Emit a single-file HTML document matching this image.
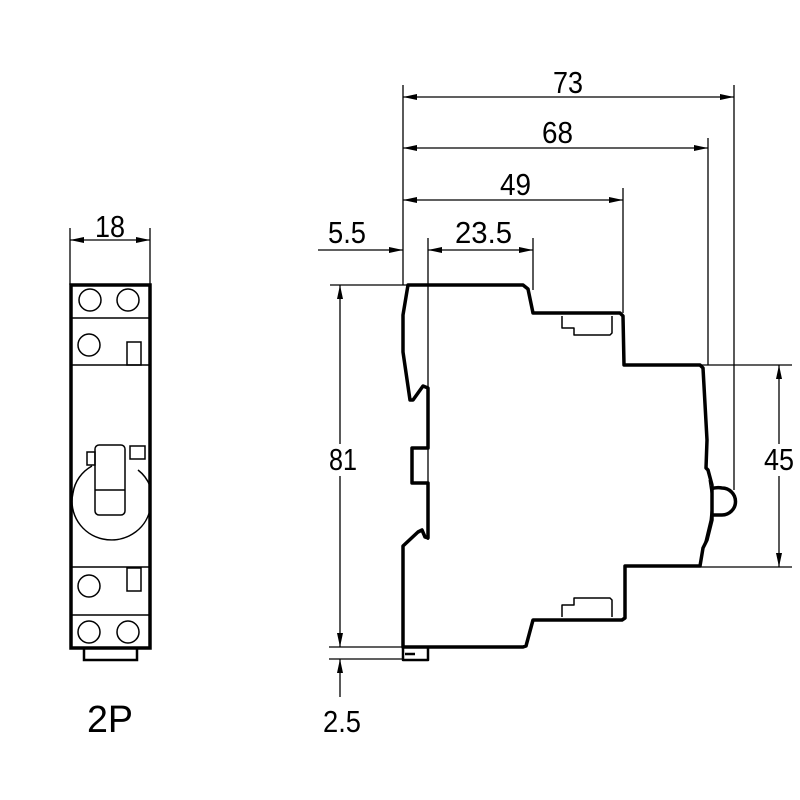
<!DOCTYPE html>
<html><head><style>body{margin:0;background:#fff}svg{display:block}text{font-family:"Liberation Sans",sans-serif;fill:#000}</style></head><body>
<svg width="800" height="800" viewBox="0 0 800 800" xmlns="http://www.w3.org/2000/svg">
<defs>
<marker id="a" viewBox="0 0 14 6" refX="14" refY="3" markerWidth="14" markerHeight="6" markerUnits="userSpaceOnUse" orient="auto-start-reverse"><path d="M0,0L14,3L0,6z" fill="#000"/></marker>
</defs>
<g stroke="#000" fill="none" stroke-width="1.3">
<line x1="70" y1="228" x2="70" y2="285"/><line x1="150" y1="228" x2="150" y2="285"/>
<line x1="70" y1="240" x2="150" y2="240" marker-start="url(#a)" marker-end="url(#a)"/>
<line x1="403" y1="85" x2="403" y2="285"/>
<line x1="734" y1="85" x2="734" y2="490"/>
<line x1="708" y1="138" x2="708" y2="365"/>
<line x1="623" y1="188" x2="623" y2="313"/>
<line x1="533" y1="238" x2="533" y2="290"/>
<line x1="428" y1="238" x2="428" y2="540"/>
<line x1="403" y1="97" x2="734" y2="97" marker-start="url(#a)" marker-end="url(#a)"/>
<line x1="403" y1="148" x2="708" y2="148" marker-start="url(#a)" marker-end="url(#a)"/>
<line x1="403" y1="200" x2="623" y2="200" marker-start="url(#a)" marker-end="url(#a)"/>
<line x1="428" y1="250" x2="533" y2="250" marker-start="url(#a)" marker-end="url(#a)"/>
<line x1="318" y1="250" x2="403" y2="250" marker-end="url(#a)"/>
<line x1="330" y1="285" x2="408" y2="285"/>
<line x1="329" y1="647" x2="403" y2="647"/>
<line x1="329" y1="659" x2="403" y2="659"/>
<line x1="340" y1="285" x2="340" y2="647" marker-start="url(#a)" marker-end="url(#a)"/>
<line x1="340" y1="697" x2="340" y2="659" marker-end="url(#a)"/>
<line x1="700" y1="365" x2="792" y2="365"/>
<line x1="700" y1="567" x2="792" y2="567"/>
<line x1="779" y1="365" x2="779" y2="567" marker-start="url(#a)" marker-end="url(#a)"/>
</g>
<rect x="327" y="444" width="32" height="32" fill="#fff"/>
<rect x="762" y="444" width="34" height="32" fill="#fff"/>
<g stroke="#000" fill="none">
<rect x="71" y="285" width="79" height="363" stroke-width="3.5"/>
<g stroke-width="1.5">
<line x1="71" y1="318" x2="150" y2="318"/><line x1="71" y1="365" x2="150" y2="365"/>
<line x1="71" y1="567" x2="150" y2="567"/><line x1="71" y1="615" x2="150" y2="615"/>
<circle cx="90" cy="300" r="11"/><circle cx="128" cy="300" r="11"/>
<circle cx="89" cy="345" r="11"/><rect x="127" y="342" width="14" height="23"/>
<path d="M73,493 A38,37 0 0 0 150,510"/><path d="M150,486 A38,37 0 0 0 138,470"/>
<path d="M92,466 A38,37 0 0 0 73,493"/>
<rect x="95" y="445" width="30" height="70" rx="4" fill="#fff"/>
<line x1="95" y1="490" x2="125" y2="490"/>
<rect x="87" y="452" width="8" height="13"/>
<rect x="130" y="446" width="15" height="13"/>
<circle cx="89" cy="586" r="11"/><rect x="127" y="568" width="14" height="23"/>
<circle cx="89" cy="632" r="11"/><circle cx="128" cy="632" r="11"/>
</g>
<path d="M84,648 V660 H137 V648" stroke-width="2.5"/>
</g>
<g stroke="#000" fill="none" stroke-linejoin="round">
<path stroke-width="3.5" d="M408,285 H523 L528,289 L533,313 H620 L623,316 L624,365 H700 L703,368 L707,440 L706,468 L708,470 L712,485 L712,520 L707,540 L703,548 L700,566 H625 V618 L622,620 H533 L526,646 L523,647 H403 V546 L418,532 L422,530 L425,537 L428,538 V483 H412 V448 H428 V388 L423,386 L413,400 L410,400 L403,352 V315 Z"/>
<path stroke-width="3.5" d="M711,489 Q716,487 722,488 A13,13 0 0 1 722,515 L712,515"/>
<path stroke-width="1" d="M709,480 L712,500 L710,520 L704,545"/>
<path stroke-width="2.5" d="M403,647 V660 H428 V647 M405,654 H415"/>
<path stroke-width="1.5" d="M562,316 V328 H574 V335 H610 L612,333 V316"/>
<path stroke-width="1.5" d="M562,617 V605 H574 V598 H610 L612,600 V617"/>
</g>
<g font-size="31">
<text x="95" y="237" textLength="30" lengthAdjust="spacingAndGlyphs">18</text>
<text x="87" y="732" font-size="38" textLength="46" lengthAdjust="spacingAndGlyphs">2P</text>
<text x="553" y="93" textLength="30" lengthAdjust="spacingAndGlyphs">73</text>
<text x="542" y="143" textLength="31" lengthAdjust="spacingAndGlyphs">68</text>
<text x="500" y="195" textLength="31" lengthAdjust="spacingAndGlyphs">49</text>
<text x="455" y="243" textLength="57" lengthAdjust="spacingAndGlyphs">23.5</text>
<text x="328" y="243" textLength="38" lengthAdjust="spacingAndGlyphs">5.5</text>
<text x="329" y="470" textLength="28" lengthAdjust="spacingAndGlyphs">81</text>
<text x="323" y="732" textLength="38" lengthAdjust="spacingAndGlyphs">2.5</text>
<text x="764" y="470" textLength="30" lengthAdjust="spacingAndGlyphs">45</text>
</g>
</svg>
</body></html>
